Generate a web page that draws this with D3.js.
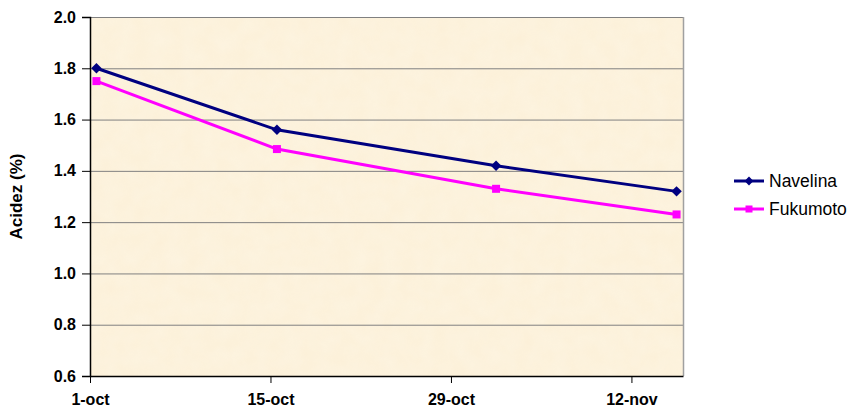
<!DOCTYPE html>
<html><head><meta charset="utf-8">
<script src="https://cdn.jsdelivr.net/npm/d3@7"></script>
<style>body{margin:0;background:#fff;} svg{display:block;font-family:"Liberation Sans",Arial,sans-serif;}</style>
</head><body><svg id="c" width="849" height="413"></svg>
<script>
const dates = ["2006-10-01","2006-10-15","2006-11-01","2006-11-15"];
const navelina = [1.80, 1.56, 1.42, 1.32];
const fukumoto = [1.75, 1.485, 1.33, 1.23];
const yTicks = [0.6, 0.8, 1.0, 1.2, 1.4, 1.6, 1.8, 2.0];
const xTickDates = ["2006-10-01","2006-10-15","2006-10-29","2006-11-12"];
const xTickLabels = ["1-oct","15-oct","29-oct","12-nov"];
const seriesNames = ["Navelina","Fukumoto"];
const seriesColors = ["#000080","#FF00FF"];

const FONT = "'Liberation Sans', Arial, sans-serif";
const svg = d3.select("#c");
const L=90,R=683,T=17,B=376;
const parse = d3.timeParse("%Y-%m-%d");
const x = d3.scaleTime().domain([parse("2006-10-01"), parse("2006-11-16")]).range([L,R]);
const y = d3.scaleLinear().domain([0.6,2.0]).range([B,T]);
const mid = d => d3.timeHour.offset(parse(d), 12);

// plot background
const defs = svg.append("defs");
const f = defs.append("filter").attr("id","tex");
f.append("feTurbulence").attr("type","fractalNoise").attr("baseFrequency","0.06").attr("numOctaves",3).attr("seed",4);
f.append("feColorMatrix").attr("type","matrix").attr("values","0 0 0 0 1  0 0 0 0 1  0 0 0 0 0.95  0 0 0 0.4 0");
f.append("feComposite").attr("in2","SourceGraphic").attr("operator","in");
svg.append("rect").attr("x",L).attr("y",T).attr("width",R-L).attr("height",B-T).attr("fill","#FCF0D8");
svg.append("rect").attr("x",L).attr("y",T).attr("width",R-L).attr("height",B-T).attr("fill","#FCF0D8").attr("filter","url(#tex)").attr("opacity",0.6);

// gridlines
svg.append("g").selectAll("line").data(yTicks.filter(v=>v>0.6)).join("line")
  .attr("x1",L).attr("x2",R).attr("y1",d=>y(d)+0.5).attr("y2",d=>y(d)+0.5)
  .attr("stroke","#808080").attr("stroke-width",1);
// right border
svg.append("line").attr("x1",R+0.5).attr("x2",R+0.5).attr("y1",T).attr("y2",B).attr("stroke","#a0a0a0").attr("stroke-width",1.5);

function styleTicks(sel){
  sel.selectAll("text").style("font-size","16px").style("font-family",FONT).style("font-weight","bold").attr("fill","#000");
}
// axes
const yAxis = d3.axisLeft(y).tickValues(yTicks).tickFormat(d3.format(".1f")).tickSize(8).tickPadding(6);
const gy = svg.append("g").attr("transform",`translate(${L},0)`).call(yAxis);
gy.select(".domain").attr("stroke","#000").attr("stroke-width",1.5);
gy.selectAll(".tick line").attr("stroke","#000");
styleTicks(gy);

const xAxis = d3.axisBottom(x).tickValues(xTickDates.map(parse)).tickFormat((d,i)=>xTickLabels[i]).tickSize(7).tickSizeOuter(0).tickPadding(11);
const gx = svg.append("g").attr("transform",`translate(0,${B})`).call(xAxis);
gx.select(".domain").attr("stroke","#000").attr("stroke-width",1.5);
gx.selectAll(".tick line").attr("stroke","#000");
styleTicks(gx);

// y label
svg.append("text").attr("transform",`translate(22,${(T+B)/2}) rotate(-90)`).attr("text-anchor","middle")
  .style("font-family",FONT).style("font-size","17px").style("font-weight","bold").text("Acidez (%)");

// series
const all = [navelina, fukumoto];
const line = d3.line().x((d,i)=>x(mid(dates[i]))).y(d=>y(d));
all.forEach((vals,si)=>{
  svg.append("path").datum(vals).attr("d",line).attr("fill","none").attr("stroke",seriesColors[si]).attr("stroke-width",3);
  const g = svg.append("g");
  vals.forEach((v,i)=>{
    const cx = x(mid(dates[i])), cy = y(v);
    if(si===0){
      g.append("path").attr("d",d3.symbol(d3.symbolDiamond2? d3.symbolDiamond2 : d3.symbolDiamond, 70)()).attr("transform",`translate(${cx},${cy})`).attr("fill",seriesColors[si]);
    } else {
      g.append("rect").attr("x",cx-4).attr("y",cy-4).attr("width",8).attr("height",8).attr("fill",seriesColors[si]);
    }
  });
});

// legend
const lg = svg.append("g");
seriesNames.forEach((n,i)=>{
  const ly = 181 + i*28;
  lg.append("line").attr("x1",734).attr("x2",764).attr("y1",ly).attr("y2",ly).attr("stroke",seriesColors[i]).attr("stroke-width",3);
  if(i===0){
    lg.append("path").attr("d",d3.symbol(d3.symbolDiamond2? d3.symbolDiamond2 : d3.symbolDiamond, 50)()).attr("transform",`translate(749,${ly})`).attr("fill",seriesColors[i]);
  } else {
    lg.append("rect").attr("x",745.5).attr("y",ly-3.5).attr("width",7).attr("height",7).attr("fill",seriesColors[i]);
  }
  lg.append("text").attr("x",769).attr("y",ly+6).style("font-family",FONT).style("font-size","17.5px").attr("fill","#000").text(n);
});
</script></body></html>
